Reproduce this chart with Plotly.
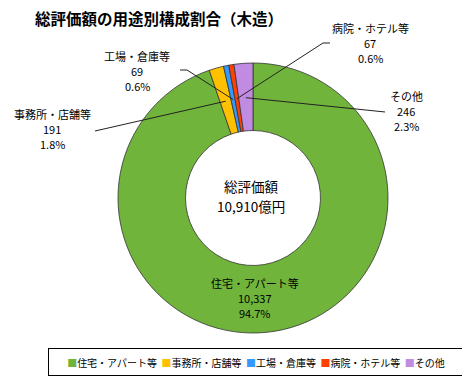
import math
import plotly.graph_objects as go

categories = ["住宅・アパート等", "事務所・店舗等", "工場・倉庫等", "病院・ホテル等", "その他"]
values = [10337, 191, 69, 67, 246]
shares = ["94.7%", "1.8%", "0.6%", "0.6%", "2.3%"]
colors = ["#70b43c", "#ffc000", "#3399ff", "#ff4000", "#c08be0"]
title_text = "総評価額の用途別構成割合（木造）"
center_lines = ["総評価額", "10,910億円"]

# page body has an 8px margin: figure is drawn from (8, 8) of the window
OFF = 8
W, H = 470 - OFF, 385 - OFF
CX, CY, R = 253, 198, 135
FONT = "Noto Sans CJK JP"


def px(x):
    return (x - OFF) / W


def py(y):
    return 1 - (y - OFF) / H


fig = go.Figure()
fig.add_trace(go.Pie(
    labels=categories,
    values=values,
    sort=False,
    direction="clockwise",
    rotation=0,
    hole=0.5,
    textinfo="none",
    hoverinfo="label+value+percent",
    marker=dict(colors=colors, line=dict(color="#333333", width=0.8)),
    domain=dict(x=[px(CX - R), px(CX + R)], y=[py(CY + R), py(CY - R)]),
    showlegend=False,
))

# point on each slice (mid angle, mid ring radius) computed from the data
total = sum(values)
cum = 0
mid_pts = []
for v in values:
    ang = 2 * math.pi * (cum + v / 2) / total
    r = 0.745 * R
    mid_pts.append((CX + r * math.sin(ang), CY - r * math.cos(ang)))
    cum += v

shapes = []
# leader lines: label side (layout) -> slice point (data)
leader_starts = {1: [(95, 131)], 2: [(180, 70), (187, 70)], 3: [(330, 43), (323, 43)], 4: [(385, 112)]}
for i, pts in leader_starts.items():
    path_pts = pts + [mid_pts[i]]
    d = "M " + " L ".join(f"{px(x):.5f},{py(y):.5f}" for x, y in path_pts)
    shapes.append(dict(type="path", xref="paper", yref="paper", path=d,
                       line=dict(color="#222222", width=1)))

label_pos = {0: (255, 298), 1: (52, 129), 2: (137, 71), 3: (370, 43), 4: (406, 111)}
LINE = 15
annotations = []
for i, (lx, ly) in label_pos.items():
    lines = [categories[i], f"{values[i]:,}", shares[i]]
    for k, t in enumerate(lines):
        annotations.append(dict(
            x=px(lx), y=py(ly + (k - 1) * LINE), xref="paper", yref="paper",
            xanchor="center", yanchor="middle",
            text=t, showarrow=False, align="center",
            font=dict(family=FONT, size=11, color="#000000"),
        ))

for k, t in enumerate(center_lines):
    annotations.append(dict(
        x=px(251), y=py(186 + k * 20), xref="paper", yref="paper",
        xanchor="center", yanchor="middle",
        text=t, showarrow=False, align="center", borderpad=0,
        font=dict(family=FONT, size=13.5, color="#000000"),
    ))

legend_text = "  ".join(
    f"<span style='color:{c}'>■</span>{cat}" for cat, c in zip(categories, colors)
)
annotations.append(dict(
    x=px(256), y=py(362), xref="paper", yref="paper",
    xanchor="center", yanchor="middle",
    text=legend_text, showarrow=False, align="center",
    width=408, height=20, borderpad=3,
    bordercolor="#000000", borderwidth=1, bgcolor="#ffffff",
    font=dict(family=FONT, size=10, color="#000000"),
))

fig.update_layout(
    width=W, height=H,
    margin=dict(l=0, r=0, t=0, b=0),
    paper_bgcolor="#ffffff",
    plot_bgcolor="#ffffff",
    title=dict(text=f"<b>{title_text}</b>", x=px(35), xanchor="left",
               y=py(20), yanchor="middle",
               font=dict(family=FONT, size=15.5, color="#000000")),
    shapes=shapes,
    annotations=annotations,
    showlegend=False,
)

fig.write_html("out.html")
